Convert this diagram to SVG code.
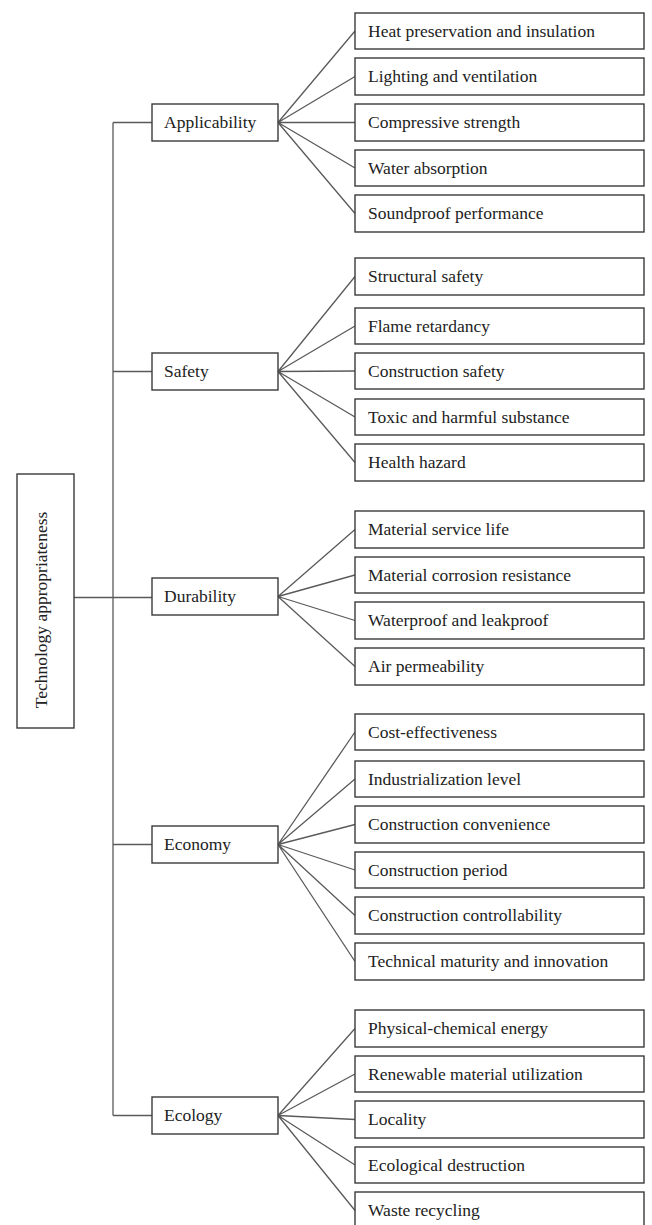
<svg xmlns="http://www.w3.org/2000/svg" width="652" height="1225" viewBox="0 0 652 1225">
<style>
.b{fill:#fff;stroke:#3a3a3a;stroke-width:1.4}
.t{font-family:"Liberation Serif",serif;font-size:17.5px;fill:#222}
.c{fill:none;stroke:#5a5a5a;stroke-width:1.3}
</style>
<rect width="652" height="1225" fill="#fff"/>
<g id="connectors" class="c">
<path d="M74 597.5H152M113 122.5V1115.5M113 122.5H152M113 371.5H152M113 844.5H152M113 1115.5H152"/>
<path d="M278 122.5L355 31M278 122.5L355 76.5M278 122.5L355 122.5M278 122.5L355 168M278 122.5L355 213.5"/>
<path d="M278 371.5L355 276.5M278 371.5L355 326M278 371.5L355 371M278 371.5L355 417M278 371.5L355 462.5"/>
<path d="M278 596.5L355 529.5M278 596.5L355 575M278 596.5L355 620.5M278 596.5L355 666.5"/>
<path d="M278 844.5L355 732M278 844.5L355 779M278 844.5L355 824.5M278 844.5L355 870M278 844.5L355 915.5M278 844.5L355 961.5"/>
<path d="M278 1115.5L355 1028.5M278 1115.5L355 1074M278 1115.5L355 1119.5M278 1115.5L355 1165M278 1115.5L355 1210.5"/>
</g>
<g id="root"><rect class="b" x="17" y="474" width="57" height="254"/><text class="t" transform="translate(47,610) rotate(-90)" text-anchor="middle">Technology appropriateness</text></g>
<g id="cat-applicability"><rect class="b" x="152" y="104" width="126" height="37"/><text class="t" x="164" y="128">Applicability</text></g>
<g id="cat-safety"><rect class="b" x="152" y="353" width="126" height="37"/><text class="t" x="164" y="377">Safety</text></g>
<g id="cat-durability"><rect class="b" x="152" y="578" width="126" height="37"/><text class="t" x="164" y="602">Durability</text></g>
<g id="cat-economy"><rect class="b" x="152" y="826" width="126" height="37"/><text class="t" x="164" y="850">Economy</text></g>
<g id="cat-ecology"><rect class="b" x="152" y="1097" width="126" height="37"/><text class="t" x="164" y="1121">Ecology</text></g>
<g id="l1"><rect class="b" x="355" y="13" width="289" height="36"/><text class="t" x="368" y="37">Heat preservation and insulation</text></g>
<g id="l2"><rect class="b" x="355" y="58" width="289" height="37"/><text class="t" x="368" y="82">Lighting and ventilation</text></g>
<g id="l3"><rect class="b" x="355" y="104" width="289" height="37"/><text class="t" x="368" y="128">Compressive strength</text></g>
<g id="l4"><rect class="b" x="355" y="150" width="289" height="36"/><text class="t" x="368" y="174">Water absorption</text></g>
<g id="l5"><rect class="b" x="355" y="195" width="289" height="37"/><text class="t" x="368" y="219">Soundproof performance</text></g>
<g id="l6"><rect class="b" x="355" y="258" width="289" height="37"/><text class="t" x="368" y="282">Structural safety</text></g>
<g id="l7"><rect class="b" x="355" y="308" width="289" height="36"/><text class="t" x="368" y="332">Flame retardancy</text></g>
<g id="l8"><rect class="b" x="355" y="353" width="289" height="36"/><text class="t" x="368" y="377">Construction safety</text></g>
<g id="l9"><rect class="b" x="355" y="399" width="289" height="36"/><text class="t" x="368" y="423">Toxic and harmful substance</text></g>
<g id="l10"><rect class="b" x="355" y="444" width="289" height="37"/><text class="t" x="368" y="468">Health hazard</text></g>
<g id="l11"><rect class="b" x="355" y="511" width="289" height="37"/><text class="t" x="368" y="535">Material service life</text></g>
<g id="l12"><rect class="b" x="355" y="557" width="289" height="36"/><text class="t" x="368" y="581">Material corrosion resistance</text></g>
<g id="l13"><rect class="b" x="355" y="602" width="289" height="37"/><text class="t" x="368" y="626">Waterproof and leakproof</text></g>
<g id="l14"><rect class="b" x="355" y="648" width="289" height="37"/><text class="t" x="368" y="672">Air permeability</text></g>
<g id="l15"><rect class="b" x="355" y="714" width="289" height="36"/><text class="t" x="368" y="738">Cost-effectiveness</text></g>
<g id="l16"><rect class="b" x="355" y="761" width="289" height="36"/><text class="t" x="368" y="785">Industrialization level</text></g>
<g id="l17"><rect class="b" x="355" y="806" width="289" height="37"/><text class="t" x="368" y="830">Construction convenience</text></g>
<g id="l18"><rect class="b" x="355" y="852" width="289" height="36"/><text class="t" x="368" y="876">Construction period</text></g>
<g id="l19"><rect class="b" x="355" y="897" width="289" height="37"/><text class="t" x="368" y="921">Construction controllability</text></g>
<g id="l20"><rect class="b" x="355" y="943" width="289" height="37"/><text class="t" x="368" y="967">Technical maturity and innovation</text></g>
<g id="l21"><rect class="b" x="355" y="1010" width="289" height="37"/><text class="t" x="368" y="1034">Physical-chemical energy</text></g>
<g id="l22"><rect class="b" x="355" y="1056" width="289" height="36"/><text class="t" x="368" y="1080">Renewable material utilization</text></g>
<g id="l23"><rect class="b" x="355" y="1101" width="289" height="37"/><text class="t" x="368" y="1125">Locality</text></g>
<g id="l24"><rect class="b" x="355" y="1147" width="289" height="36"/><text class="t" x="368" y="1171">Ecological destruction</text></g>
<g id="l25"><rect class="b" x="355" y="1192" width="289" height="37"/><text class="t" x="368" y="1216">Waste recycling</text></g>
</svg>
